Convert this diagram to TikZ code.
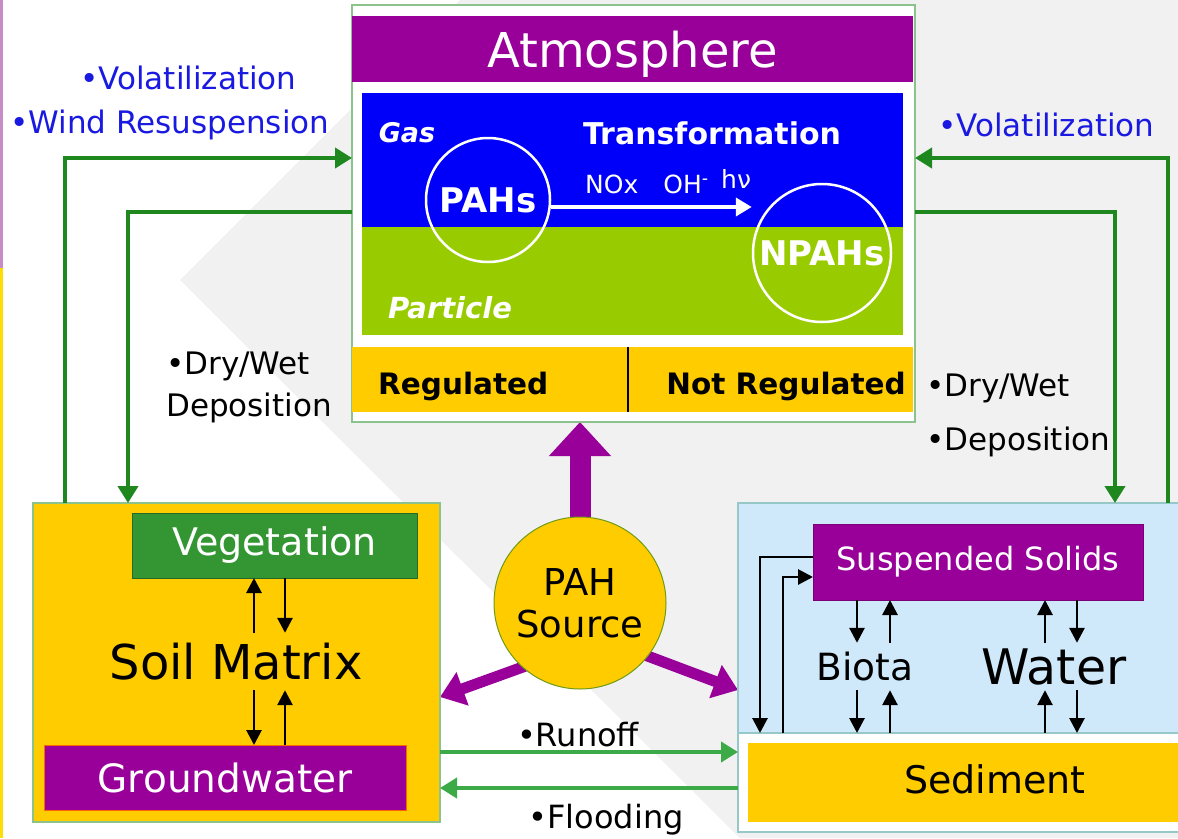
\documentclass[tikz,border=0pt]{standalone}
\usepackage{fontspec}
\setmainfont{DejaVu Sans}
\usepackage{tikz}
\usetikzlibrary{arrows.meta,positioning,calc}
\definecolor{atmoPurple}{RGB}{153,0,153}
\definecolor{gasBlue}{RGB}{0,0,250}
\definecolor{partGreen}{RGB}{153,204,0}
\definecolor{regGold}{RGB}{255,204,0}
\definecolor{vegGreen}{RGB}{51,150,51}
\definecolor{flowGreen}{RGB}{30,135,30}
\definecolor{runGreen}{RGB}{60,170,70}
\definecolor{waterBlue}{RGB}{207,233,250}
\definecolor{labelBlue}{RGB}{25,25,225}
\definecolor{edgeGreen}{RGB}{140,195,140}
\definecolor{edgeTeal}{RGB}{150,200,200}
\definecolor{bgGray}{RGB}{241,241,241}
\newcommand{\pfont}[2]{\fontsize{#1}{#2}\selectfont}
\pgfdeclarelayer{bg}
\pgfdeclarelayer{flows}
\pgfsetlayers{bg,flows,main}

\begin{document}
\begin{tikzpicture}[x=1pt,y=-1pt,
  box/.style={rectangle,inner sep=0pt,outer sep=0pt},
  lbl/.style={inner sep=0pt,font={\pfont{32}{36}}},
  greenflow/.style={draw=flowGreen,line width=4pt,-{Triangle[length=17pt,width=20pt]}},
  runflow/.style={draw=runGreen,line width=4pt,-{Triangle[length=17pt,width=20pt]}},
  blackflow/.style={draw=black,line width=2.8pt,-{Triangle[length=15pt,width=15pt]}},
  fatflow/.style={draw=atmoPurple,line width=21pt,-{Triangle[length=34pt,width=60pt]}},
  sideflow/.style={draw=atmoPurple,line width=11pt,-{Triangle[length=24pt,width=34pt]},shorten <=-20pt}]
\useasboundingbox (0,0) rectangle (1178,838);
\begin{pgfonlayer}{bg}
\fill[white] (0,0) rectangle (1178,838);
\fill[bgGray] (180,280) -- (460,0) -- (1178,0) -- (1178,838) -- (740,838) -- cycle;
\fill[violet!45] (0,0) rectangle (2.5,268);
\fill[yellow!80!orange] (0,268) rectangle (2.5,838);
\end{pgfonlayer}

\node[box,draw=edgeGreen,line width=1.2pt,fill=white,minimum width=563pt,minimum height=417pt] (atmo) at (633.5,213.5) {};
\node[box,fill=atmoPurple,minimum width=561pt,minimum height=66pt,text=white,text depth=0pt,font={\pfont{48}{52}}] (atmotitle) at (632.5,49) {Atmosphere};
\node[box,fill=gasBlue,minimum width=541pt,minimum height=134pt] (gas) at (632.5,160) {};
\node[box,fill=partGreen,minimum width=541pt,minimum height=108pt] (part) at (632.5,281) {};
\node[box,fill=regGold,minimum width=561pt,minimum height=65pt] (reg) at (632.5,379.5) {};
\draw[black,line width=2pt] ([xshift=-4.5pt]reg.north) -- ([xshift=-4.5pt]reg.south);
\node[lbl,text=white,font={\pfont{27}{30}\bfseries\itshape}] (gaslbl) at (407,133) {Gas};
\node[lbl,text=white,font={\pfont{30}{32}\bfseries}] (transf) at (712,133) {Transformation};
\node[lbl,text=white,anchor=west,font={\pfont{25}{28}}] (agents) at (585,182) {NOx\quad OH\textsuperscript{-}\enspace\raisebox{5pt}{hν}};
\node[circle,draw=white,line width=2.5pt,minimum size=124pt,inner sep=0pt,text=white,font={\pfont{34}{36}\bfseries}] (pahs) at (488,200) {PAHs};
\node[circle,draw=white,line width=2.5pt,minimum size=138pt,inner sep=0pt,text=white,font={\pfont{34}{36}\bfseries}] (npahs) at (822,253) {NPAHs};
\coordinate (tfy) at (0,207);
\draw[white,line width=4pt,-{Triangle[length=16pt,width=18pt]}] (pahs.east |- tfy) -- (npahs.west |- tfy);
\node[lbl,text=white,font={\pfont{29}{32}\bfseries\itshape}] (partlbl) at (450,308) {Particle};
\node[lbl,anchor=west,font={\pfont{29.5}{32}\bfseries}] (regl) at (378,386) {Regulated};
\node[lbl,anchor=east,font={\pfont{29.5}{32}\bfseries}] (regr) at (906,386) {Not Regulated};

\node[lbl,text=labelBlue,anchor=west,font={\pfont{31}{34}}] (vol) at (80,78) {•Volatilization};
\node[lbl,text=labelBlue,anchor=west,font={\pfont{31}{34}}] (wind) at (10,125) {•Wind Resuspension};
\node[lbl,text=labelBlue,anchor=west,font={\pfont{31}{34}}] (volr) at (938,125) {•Volatilization};
\node[lbl,anchor=west,align=left,font={\pfont{31}{42}}] (depl) at (166,387) {•Dry/Wet\\Deposition};
\node[lbl,anchor=west,align=left,font={\pfont{31}{54}}] (depr) at (926,415) {•Dry/Wet\\•Deposition};

\node[box,fill=regGold,draw=edgeGreen,line width=1.2pt,minimum width=407pt,minimum height=319pt] (soil) at (236.5,662.5) {};
\node[box,fill=vegGreen,draw=vegGreen!70!black,line width=1pt,minimum width=285pt,minimum height=65pt,text=white,font={\pfont{38}{40}}] (veg) at (274.5,545.5) {Vegetation};
\node[box,fill=atmoPurple,draw=orange!80!red,line width=0.8pt,minimum width=362pt,minimum height=65pt,text=white,font={\pfont{39}{40}}] (gw) at (225,777.5) {Groundwater};
\node[inner sep=0pt,minimum height=57pt,font={\pfont{48}{50}}] (soilm) at (236,661.5) {Soil Matrix};

\node[box,fill=waterBlue,draw=edgeTeal,line width=1.2pt,minimum width=450pt,minimum height=329pt] (water) at (963,667.5) {};
\node[box,fill=white,draw=edgeTeal,line width=1.2pt,minimum width=450pt,minimum height=99pt] (sedbase) at (963,782.5) {};
\node[box,fill=regGold,minimum width=440pt,minimum height=79pt] (sed) at (968,782.5) {};
\node[lbl,font={\pfont{38}{40}}] (sedtxt) at (995,779) {Sediment};
\node[box,fill=atmoPurple,draw=atmoPurple!80!black,line width=1pt,minimum width=330pt,minimum height=76pt,text=white,font={\pfont{32}{34}}] (ss) at (978,562) {Suspended Solids};
\node[inner sep=0pt,minimum height=47pt,font={\pfont{37.5}{40}}] (biota) at (865,666.5) {Biota};
\node[inner sep=0pt,minimum height=47pt,font={\pfont{49}{50}}] (wat) at (1054,666.5) {Water};

\node[circle,fill=regGold,draw=olive!60!green,line width=1pt,minimum size=172pt,inner sep=0pt,align=center,font={\pfont{37}{42}}] (src) at (580,603) {PAH\\Source};

\coordinate (lvol) at (65,158);
\coordinate (ldep) at (128,212);
\coordinate (rvol) at (1168,158);
\coordinate (rdep) at (1115,212);
\coordinate (runy) at (0,752);
\coordinate (floody) at (0,788);
\coordinate (lhit) at (0,697);
\coordinate (rhit) at (0,690);
\coordinate (vegL) at (254,0);
\coordinate (vegR) at (285,0);
\coordinate (bioL) at (857,0);
\coordinate (bioR) at (890,0);
\coordinate (watL) at (1045,0);
\coordinate (watR) at (1077,0);
\coordinate (ssdown) at (760,557);
\coordinate (ssup) at (783,577);

\draw[greenflow] (soil.north -| lvol) |- (atmo.west |- lvol);
\draw[greenflow] (atmo.west |- ldep) -| (soil.north -| ldep);
\draw[greenflow] (water.north -| rvol) |- (atmo.east |- rvol);
\draw[greenflow] (atmo.east |- rdep) -| (water.north -| rdep);
\draw[runflow] (soil.east |- runy) -- (water.west |- runy);
\draw[runflow] (water.west |- floody) -- (soil.east |- floody);
\node[lbl,anchor=south] (runoff) at (578,747) {•Runoff};
\node[lbl] (flood) at (606,820) {•Flooding};

\draw[blackflow] (vegL |- soilm.north) -- (vegL |- veg.south);
\draw[blackflow] (vegR |- veg.south) -- (vegR |- soilm.north);
\draw[blackflow] (vegL |- soilm.south) -- (vegL |- gw.north);
\draw[blackflow] (vegR |- gw.north) -- (vegR |- soilm.south);

\draw[blackflow] (bioL |- ss.south) -- (bioL |- biota.north);
\draw[blackflow] (bioR |- biota.north) -- (bioR |- ss.south);
\draw[blackflow] (bioL |- biota.south) -- (bioL |- sedbase.north);
\draw[blackflow] (bioR |- sedbase.north) -- (bioR |- biota.south);
\draw[blackflow] (watL |- wat.north) -- (watL |- ss.south);
\draw[blackflow] (watR |- ss.south) -- (watR |- wat.north);
\draw[blackflow] (watL |- sedbase.north) -- (watL |- wat.south);
\draw[blackflow] (watR |- wat.south) -- (watR |- sedbase.north);
\draw[blackflow] (ss.west |- ssdown) -| (sedbase.north -| ssdown);
\draw[blackflow] (sedbase.north -| ssup) |- (ss.west |- ssup);

\begin{pgfonlayer}{flows}
\draw[fatflow] (src.center) -- (src.center |- atmo.south);
\draw[sideflow] (src.228) -- (soil.east |- lhit);
\draw[sideflow] (src.322) -- (water.west |- rhit);
\end{pgfonlayer}
\end{tikzpicture}
\end{document}
